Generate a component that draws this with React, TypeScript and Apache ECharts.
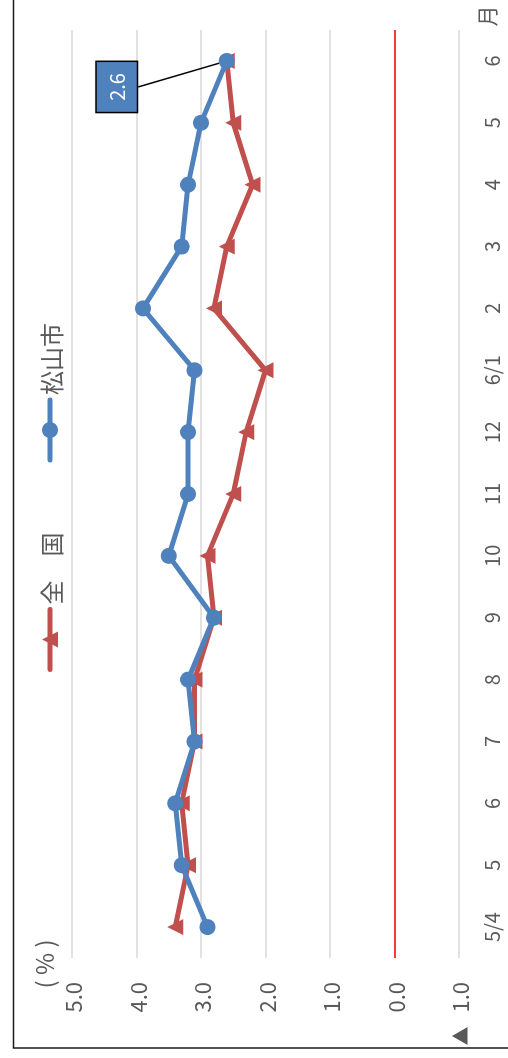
import React, { useEffect, useRef } from 'react';
import * as echarts from 'echarts';

// ---- data ----
const categories = ['5/4', '5', '6', '7', '8', '9', '10', '11', '12', '6/1', '2', '3', '4', '5', '6'];
const nationalValues = [3.4, 3.2, 3.3, 3.1, 3.1, 2.8, 2.9, 2.5, 2.3, 2.0, 2.8, 2.6, 2.2, 2.5, 2.6];
const matsuyamaValues = [2.9, 3.3, 3.4, 3.1, 3.2, 2.8, 3.5, 3.2, 3.2, 3.1, 3.9, 3.3, 3.2, 3.0, 2.6];
const seriesNames = ['全　国', '松山市'];
const valueMin = -1;
const valueMax = 5;
const valueStep = 1;
const valueUnit = '( % )';
const categoryUnit = '月';

const W = 1058;
const H = 508;
const FONT = "'Noto Sans CJK JP', 'Noto Sans', sans-serif";
const LABEL = '#595959';
const RED = '#C0504D';
const BLUE = '#4F81BD';

export default function App() {
  const ref = useRef<HTMLDivElement>(null);

  useEffect(() => {
    if (!ref.current) return;
    const chart = echarts.init(ref.current, null, { renderer: 'svg' });
    const last = matsuyamaValues.length - 1;
    chart.setOption({
      animation: false,
      backgroundColor: '#ffffff',
      textStyle: { fontFamily: FONT },
      grid: { left: 100, right: 30, top: 72, bottom: 49, containLabel: false },
      legend: {
        data: seriesNames,
        left: 386,
        top: 38,
        padding: 0,
        itemWidth: 60,
        itemHeight: 20,
        itemGap: 70,
        lineStyle: { width: 5, cap: 'round' },
        textStyle: { color: LABEL, fontSize: 24, fontFamily: FONT },
      },
      xAxis: {
        type: 'category',
        data: categories,
        boundaryGap: true,
        axisLine: { show: false },
        axisTick: { show: false },
        splitLine: { show: false },
        axisLabel: { color: LABEL, fontSize: 20, margin: 22, interval: 0, fontFamily: FONT },
      },
      yAxis: {
        type: 'value',
        min: valueMin,
        max: valueMax,
        interval: valueStep,
        axisLine: { show: false },
        axisTick: { show: false },
        splitLine: { show: true, lineStyle: { color: '#D9D9D9', width: 1.5 } },
        axisLabel: {
          margin: 24,
          color: LABEL,
          fontSize: 22,
          fontFamily: FONT,
          formatter: (v: number) =>
            v < 0 ? `{t|▲}{n|${Math.abs(v).toFixed(1)}}` : `{n|${v.toFixed(1)}}`,
          rich: {
            t: { fontSize: 19, color: LABEL, fontFamily: FONT, padding: [0, 14, 0, 0] },
            n: { fontSize: 22, color: LABEL, fontFamily: FONT },
          },
        },
      },
      graphic: [
        {
          type: 'rect',
          silent: true,
          z: -1,
          shape: { x: 10, y: 13.5, width: 1200, height: 700 },
          style: { fill: 'none', stroke: '#1a1a1a', lineWidth: 1.5 },
        },
        {
          type: 'text',
          x: 94,
          y: 43,
          style: { text: valueUnit, fill: LABEL, fontSize: 24, fontFamily: FONT, align: 'center', verticalAlign: 'middle' },
        },
        {
          type: 'text',
          x: 1042,
          y: 486,
          style: { text: categoryUnit, fill: LABEL, fontSize: 21, fontFamily: FONT, align: 'center', verticalAlign: 'middle' },
        },
      ],
      series: [
        {
          name: seriesNames[0],
          type: 'line',
          data: nationalValues,
          symbol: 'triangle',
          symbolSize: 16,
          lineStyle: { color: RED, width: 5 },
          itemStyle: { color: RED },
          markLine: {
            silent: true,
            symbol: ['none', 'none'],
            label: { show: false },
            lineStyle: { color: '#FF0000', width: 1.5, type: 'solid' },
            data: [{ yAxis: 0 }],
          },
        },
        {
          name: seriesNames[1],
          type: 'line',
          data: matsuyamaValues.map((v, i) =>
            i === last
              ? {
                  value: v,
                  label: {
                    show: true,
                    position: 'top',
                    distance: 5,
                    formatter: (p: any) => Number(p.value).toFixed(1),
                    color: '#ffffff',
                    fontSize: 20,
                    lineHeight: 20,
                    fontFamily: FONT,
                    backgroundColor: BLUE,
                    borderColor: '#000000',
                    borderWidth: 1.5,
                    padding: [10, 11],
                  },
                }
              : v
          ),
          symbol: 'circle',
          symbolSize: 16,
          lineStyle: { color: BLUE, width: 5 },
          itemStyle: { color: BLUE },
          labelLayout: { dx: -26, dy: -77 },
          labelLine: { show: true, lineStyle: { color: '#000000', width: 1.5 } },
        },
      ],
    });
    return () => chart.dispose();
  }, []);

  return (
    <div
      style={{
        position: 'fixed',
        left: 0,
        top: 0,
        width: W,
        height: H,
        transformOrigin: '0 0',
        transform: `translateY(${W}px) rotate(-90deg)`,
        background: '#fff',
      }}
    >
      <div ref={ref} style={{ width: W, height: H }} />
    </div>
  );
}
